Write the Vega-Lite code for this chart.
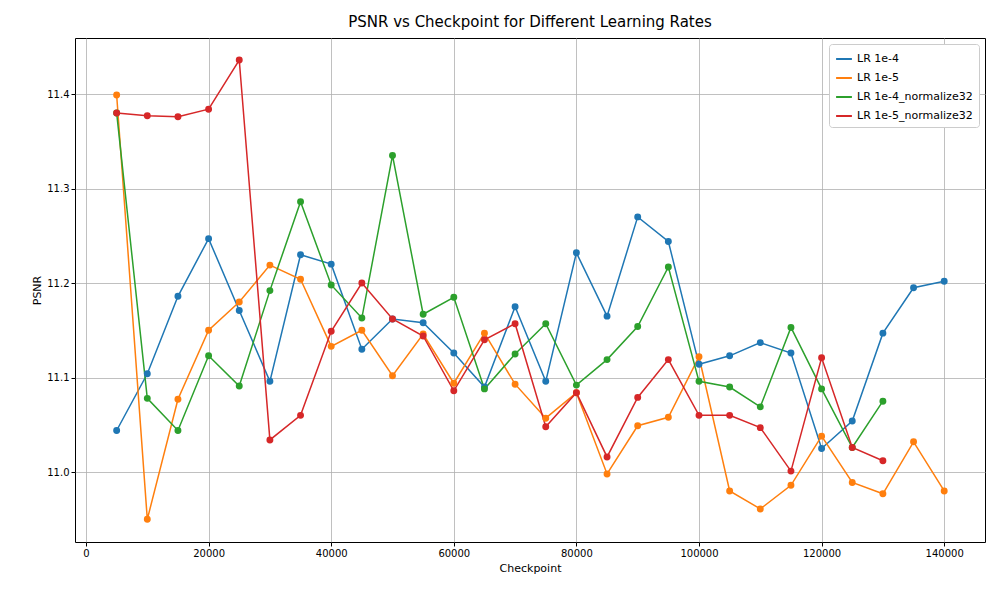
{
  "$schema": "https://vega.github.io/schema/vega-lite/v6.json",
  "width": 910,
  "height": 504,
  "autosize": {"type": "none"},
  "padding": {"left": 75, "top": 38, "right": 15, "bottom": 58},
  "background": "white",
  "title": {"text": "PSNR vs Checkpoint for Different Learning Rates", "fontSize": 15, "fontWeight": "normal", "font": "DejaVu Sans", "offset": 8},
  "data": {"values": [
    {"series":"LR 1e-4","checkpoint":5000,"psnr":11.044},{"series":"LR 1e-4","checkpoint":10000,"psnr":11.104},{"series":"LR 1e-4","checkpoint":15000,"psnr":11.186},{"series":"LR 1e-4","checkpoint":20000,"psnr":11.247},{"series":"LR 1e-4","checkpoint":25000,"psnr":11.171},{"series":"LR 1e-4","checkpoint":30000,"psnr":11.096},{"series":"LR 1e-4","checkpoint":35000,"psnr":11.230},{"series":"LR 1e-4","checkpoint":40000,"psnr":11.220},{"series":"LR 1e-4","checkpoint":45000,"psnr":11.130},{"series":"LR 1e-4","checkpoint":50000,"psnr":11.162},{"series":"LR 1e-4","checkpoint":55000,"psnr":11.158},{"series":"LR 1e-4","checkpoint":60000,"psnr":11.126},{"series":"LR 1e-4","checkpoint":65000,"psnr":11.090},{"series":"LR 1e-4","checkpoint":70000,"psnr":11.175},{"series":"LR 1e-4","checkpoint":75000,"psnr":11.096},{"series":"LR 1e-4","checkpoint":80000,"psnr":11.232},{"series":"LR 1e-4","checkpoint":85000,"psnr":11.165},{"series":"LR 1e-4","checkpoint":90000,"psnr":11.270},{"series":"LR 1e-4","checkpoint":95000,"psnr":11.244},{"series":"LR 1e-4","checkpoint":100000,"psnr":11.114},{"series":"LR 1e-4","checkpoint":105000,"psnr":11.123},{"series":"LR 1e-4","checkpoint":110000,"psnr":11.137},{"series":"LR 1e-4","checkpoint":115000,"psnr":11.126},{"series":"LR 1e-4","checkpoint":120000,"psnr":11.025},{"series":"LR 1e-4","checkpoint":125000,"psnr":11.054},{"series":"LR 1e-4","checkpoint":130000,"psnr":11.147},{"series":"LR 1e-4","checkpoint":135000,"psnr":11.195},{"series":"LR 1e-4","checkpoint":140000,"psnr":11.202},
    {"series":"LR 1e-5","checkpoint":5000,"psnr":11.399},{"series":"LR 1e-5","checkpoint":10000,"psnr":10.950},{"series":"LR 1e-5","checkpoint":15000,"psnr":11.077},{"series":"LR 1e-5","checkpoint":20000,"psnr":11.150},{"series":"LR 1e-5","checkpoint":25000,"psnr":11.180},{"series":"LR 1e-5","checkpoint":30000,"psnr":11.219},{"series":"LR 1e-5","checkpoint":35000,"psnr":11.204},{"series":"LR 1e-5","checkpoint":40000,"psnr":11.133},{"series":"LR 1e-5","checkpoint":45000,"psnr":11.150},{"series":"LR 1e-5","checkpoint":50000,"psnr":11.102},{"series":"LR 1e-5","checkpoint":55000,"psnr":11.146},{"series":"LR 1e-5","checkpoint":60000,"psnr":11.094},{"series":"LR 1e-5","checkpoint":65000,"psnr":11.147},{"series":"LR 1e-5","checkpoint":70000,"psnr":11.093},{"series":"LR 1e-5","checkpoint":75000,"psnr":11.057},{"series":"LR 1e-5","checkpoint":80000,"psnr":11.084},{"series":"LR 1e-5","checkpoint":85000,"psnr":10.998},{"series":"LR 1e-5","checkpoint":90000,"psnr":11.049},{"series":"LR 1e-5","checkpoint":95000,"psnr":11.058},{"series":"LR 1e-5","checkpoint":100000,"psnr":11.122},{"series":"LR 1e-5","checkpoint":105000,"psnr":10.980},{"series":"LR 1e-5","checkpoint":110000,"psnr":10.961},{"series":"LR 1e-5","checkpoint":115000,"psnr":10.986},{"series":"LR 1e-5","checkpoint":120000,"psnr":11.038},{"series":"LR 1e-5","checkpoint":125000,"psnr":10.989},{"series":"LR 1e-5","checkpoint":130000,"psnr":10.977},{"series":"LR 1e-5","checkpoint":135000,"psnr":11.032},{"series":"LR 1e-5","checkpoint":140000,"psnr":10.980},
    {"series":"LR 1e-4_normalize32","checkpoint":5000,"psnr":11.380},{"series":"LR 1e-4_normalize32","checkpoint":10000,"psnr":11.078},{"series":"LR 1e-4_normalize32","checkpoint":15000,"psnr":11.044},{"series":"LR 1e-4_normalize32","checkpoint":20000,"psnr":11.123},{"series":"LR 1e-4_normalize32","checkpoint":25000,"psnr":11.091},{"series":"LR 1e-4_normalize32","checkpoint":30000,"psnr":11.192},{"series":"LR 1e-4_normalize32","checkpoint":35000,"psnr":11.286},{"series":"LR 1e-4_normalize32","checkpoint":40000,"psnr":11.198},{"series":"LR 1e-4_normalize32","checkpoint":45000,"psnr":11.163},{"series":"LR 1e-4_normalize32","checkpoint":50000,"psnr":11.335},{"series":"LR 1e-4_normalize32","checkpoint":55000,"psnr":11.167},{"series":"LR 1e-4_normalize32","checkpoint":60000,"psnr":11.185},{"series":"LR 1e-4_normalize32","checkpoint":65000,"psnr":11.088},{"series":"LR 1e-4_normalize32","checkpoint":70000,"psnr":11.125},{"series":"LR 1e-4_normalize32","checkpoint":75000,"psnr":11.157},{"series":"LR 1e-4_normalize32","checkpoint":80000,"psnr":11.092},{"series":"LR 1e-4_normalize32","checkpoint":85000,"psnr":11.119},{"series":"LR 1e-4_normalize32","checkpoint":90000,"psnr":11.154},{"series":"LR 1e-4_normalize32","checkpoint":95000,"psnr":11.217},{"series":"LR 1e-4_normalize32","checkpoint":100000,"psnr":11.096},{"series":"LR 1e-4_normalize32","checkpoint":105000,"psnr":11.090},{"series":"LR 1e-4_normalize32","checkpoint":110000,"psnr":11.069},{"series":"LR 1e-4_normalize32","checkpoint":115000,"psnr":11.153},{"series":"LR 1e-4_normalize32","checkpoint":120000,"psnr":11.088},{"series":"LR 1e-4_normalize32","checkpoint":125000,"psnr":11.026},{"series":"LR 1e-4_normalize32","checkpoint":130000,"psnr":11.075},
    {"series":"LR 1e-5_normalize32","checkpoint":5000,"psnr":11.380},{"series":"LR 1e-5_normalize32","checkpoint":10000,"psnr":11.377},{"series":"LR 1e-5_normalize32","checkpoint":15000,"psnr":11.376},{"series":"LR 1e-5_normalize32","checkpoint":20000,"psnr":11.384},{"series":"LR 1e-5_normalize32","checkpoint":25000,"psnr":11.436},{"series":"LR 1e-5_normalize32","checkpoint":30000,"psnr":11.034},{"series":"LR 1e-5_normalize32","checkpoint":35000,"psnr":11.060},{"series":"LR 1e-5_normalize32","checkpoint":40000,"psnr":11.149},{"series":"LR 1e-5_normalize32","checkpoint":45000,"psnr":11.200},{"series":"LR 1e-5_normalize32","checkpoint":50000,"psnr":11.162},{"series":"LR 1e-5_normalize32","checkpoint":55000,"psnr":11.144},{"series":"LR 1e-5_normalize32","checkpoint":60000,"psnr":11.086},{"series":"LR 1e-5_normalize32","checkpoint":65000,"psnr":11.140},{"series":"LR 1e-5_normalize32","checkpoint":70000,"psnr":11.157},{"series":"LR 1e-5_normalize32","checkpoint":75000,"psnr":11.048},{"series":"LR 1e-5_normalize32","checkpoint":80000,"psnr":11.084},{"series":"LR 1e-5_normalize32","checkpoint":85000,"psnr":11.016},{"series":"LR 1e-5_normalize32","checkpoint":90000,"psnr":11.079},{"series":"LR 1e-5_normalize32","checkpoint":95000,"psnr":11.119},{"series":"LR 1e-5_normalize32","checkpoint":100000,"psnr":11.060},{"series":"LR 1e-5_normalize32","checkpoint":105000,"psnr":11.060},{"series":"LR 1e-5_normalize32","checkpoint":110000,"psnr":11.047},{"series":"LR 1e-5_normalize32","checkpoint":115000,"psnr":11.001},{"series":"LR 1e-5_normalize32","checkpoint":120000,"psnr":11.121},{"series":"LR 1e-5_normalize32","checkpoint":125000,"psnr":11.026},{"series":"LR 1e-5_normalize32","checkpoint":130000,"psnr":11.012}
  ]},
  "mark": {"type": "line", "point": {"filled": true, "size": 48, "opacity": 1}, "strokeWidth": 1.5},
  "encoding": {
    "x": {"field": "checkpoint", "type": "quantitative", "title": "Checkpoint",
      "scale": {"domain": [-1794, 146655], "nice": false, "zero": false},
      "axis": {"values": [0, 20000, 40000, 60000, 80000, 100000, 120000, 140000], "format": "d"}},
    "y": {"field": "psnr", "type": "quantitative", "title": "PSNR",
      "scale": {"domain": [10.926, 11.4593], "nice": false, "zero": false},
      "axis": {"values": [11.0, 11.1, 11.2, 11.3, 11.4], "format": ".1f"}},
    "color": {"field": "series", "type": "nominal", "title": null,
      "sort": ["LR 1e-4", "LR 1e-5", "LR 1e-4_normalize32", "LR 1e-5_normalize32"],
      "scale": {"domain": ["LR 1e-4", "LR 1e-5", "LR 1e-4_normalize32", "LR 1e-5_normalize32"], "range": ["#1f77b4", "#ff7f0e", "#2ca02c", "#d62728"]},
      "legend": {"orient": "top-right", "symbolType": "stroke", "symbolStrokeWidth": 2, "symbolSize": 250, "labelFontSize": 11, "labelFont": "DejaVu Sans",
        "fillColor": "white", "strokeColor": "#cccccc", "padding": 6, "cornerRadius": 3, "rowPadding": 5, "offset": 6}}
  },
  "config": {
    "font": "DejaVu Sans",
    "view": {"stroke": "black", "strokeWidth": 1},
    "axis": {"grid": true, "gridColor": "#b0b0b0", "gridWidth": 0.8, "domain": false, "tickColor": "black", "tickSize": 4,
      "labelFontSize": 10, "labelColor": "black", "titleFontSize": 11, "titleFontWeight": "normal", "titleColor": "black"}
  }
}
